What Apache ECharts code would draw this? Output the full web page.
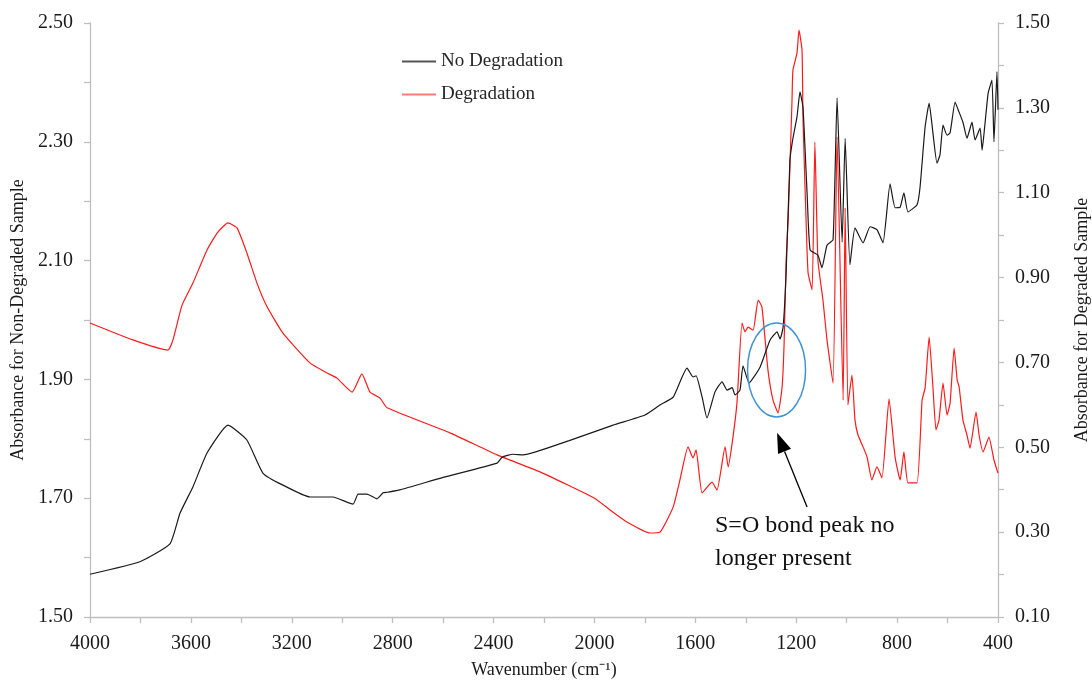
<!DOCTYPE html>
<html>
<head>
<meta charset="utf-8">
<script src="https://cdn.jsdelivr.net/npm/echarts@6/dist/echarts.min.js"></script>
<style>
html,body{margin:0;padding:0;background:#fff;}
#chart{width:1092px;height:680px;}
</style>
</head>
<body>
<div id="chart"></div>
<script>
// ---- Data ----
const xTicks = [4000, 3600, 3200, 2800, 2400, 2000, 1600, 1200, 800, 400];
const leftTicks = [1.50, 1.70, 1.90, 2.10, 2.30, 2.50];
const rightTicks = [0.10, 0.30, 0.50, 0.70, 0.90, 1.10, 1.30, 1.50];

// No Degradation (left axis)
const noDegWn = [4000,3802,3683,3643,3592,3536,3453,3378,3314,3235,3128,3037,2957,2937,2902,2862,2838,2822,2771,2600,2386,2366,2323,2283,2100,1926,1800,1740,1688,1633,1609,1597,1573,1554,1522,1494,1474,1454,1443,1423,1411,1387,1343,1304,1276,1264,1252,1240,1225,1213,1197,1185,1173,1157,1145,1114,1098,1078,1054,1038,1018,1006,987,967,935,907,880,856,828,808,788,773,757,721,709,689,673,658,642,630,618,602,590,570,558,539,523,503,491,471,463,451,439,424,416,404,400];
const noDegAbs = [1.572,1.593,1.623,1.675,1.719,1.776,1.823,1.798,1.742,1.722,1.702,1.702,1.690,1.707,1.707,1.699,1.709,1.710,1.714,1.735,1.759,1.769,1.774,1.773,1.797,1.823,1.840,1.857,1.870,1.919,1.904,1.906,1.870,1.835,1.879,1.896,1.882,1.886,1.874,1.882,1.923,1.894,1.921,1.966,1.980,1.968,1.988,2.079,2.269,2.306,2.342,2.384,2.357,2.214,2.118,2.109,2.088,2.126,2.135,2.374,2.131,2.306,2.093,2.155,2.130,2.157,2.152,2.130,2.229,2.189,2.190,2.214,2.182,2.194,2.224,2.325,2.365,2.315,2.264,2.278,2.328,2.311,2.315,2.367,2.354,2.333,2.306,2.333,2.303,2.323,2.286,2.333,2.382,2.404,2.300,2.418,2.354];

// Degradation (right axis)
const degWn = [4000,3830,3691,3671,3635,3592,3536,3496,3453,3417,3378,3338,3298,3235,3128,3060,3021,2961,2922,2890,2850,2822,2573,2386,2216,2000,1926,1871,1780,1740,1688,1661,1629,1609,1597,1573,1534,1514,1482,1470,1454,1435,1415,1403,1391,1371,1351,1336,1312,1292,1272,1256,1248,1240,1232,1217,1213,1197,1189,1177,1173,1161,1153,1137,1126,1114,1094,1078,1054,1038,1014,1006,995,979,967,955,935,919,900,880,860,832,808,788,773,757,721,701,689,673,658,646,634,618,602,590,574,562,554,539,523,511,487,475,459,436,416,400];
const degAbs = [0.793,0.753,0.729,0.753,0.835,0.887,0.965,1.005,1.029,1.017,0.958,0.887,0.831,0.769,0.699,0.675,0.663,0.630,0.673,0.630,0.616,0.593,0.534,0.482,0.442,0.380,0.347,0.324,0.298,0.300,0.359,0.423,0.501,0.475,0.494,0.392,0.418,0.399,0.501,0.454,0.510,0.604,0.793,0.772,0.783,0.776,0.847,0.831,0.682,0.611,0.581,0.642,0.746,0.941,1.036,1.311,1.389,1.429,1.483,1.436,1.271,1.036,0.911,0.871,1.219,0.941,0.847,0.753,0.651,1.231,0.611,1.064,0.600,0.670,0.564,0.529,0.501,0.477,0.423,0.454,0.428,0.614,0.477,0.423,0.489,0.416,0.416,0.611,0.640,0.760,0.642,0.541,0.564,0.651,0.576,0.604,0.734,0.659,0.642,0.564,0.529,0.498,0.583,0.529,0.489,0.524,0.470,0.439];

// Annotation anchors (data space: wavenumber, left-axis absorbance)
const ellipseCenter = [1278, 1.916];
const arrowTip = [1276, 1.810];
const arrowTail = [1157, 1.685];
const noteAnchor = [1522, 1.682];
const noteText = 'S=O bond peak no\nlonger present';

const zip = (a, b) => a.map((v, i) => [v, b[i]]);
const FONT = '"Liberation Serif", "Times New Roman", serif';
const AXIS_GREY = '#bfbfbf';
const TXT = '#1a1a1a';

const chart = echarts.init(document.getElementById('chart'), null, {renderer: 'canvas'});

const yAxisCommon = {
  type: 'value',
  interval: 0.2,
  axisLine: {show: true, lineStyle: {color: AXIS_GREY, width: 1.3}},
  axisTick: {show: true, length: 6, lineStyle: {color: AXIS_GREY, width: 1.3}},
  minorTick: {show: true, splitNumber: 2, length: 6, lineStyle: {color: AXIS_GREY, width: 1.3}},
  splitLine: {show: false},
  minorSplitLine: {show: false},
  axisLabel: {fontFamily: FONT, fontSize: 20, color: TXT, margin: 17, formatter: v => v.toFixed(2)},
  nameLocation: 'middle',
  nameTextStyle: {fontFamily: FONT, fontSize: 18, color: TXT}
};

chart.setOption({
  animation: false,
  backgroundColor: '#fff',
  grid: {left: 90, right: 94, top: 23, bottom: 63, containLabel: false, outerBoundsMode: 'none'},
  legend: {
    orient: 'vertical',
    left: 397,
    top: 47,
    itemWidth: 34,
    itemHeight: 2,
    itemGap: 14,
    icon: 'rect',
    textStyle: {fontFamily: FONT, fontSize: 19, color: '#262626'},
    data: ['No Degradation', 'Degradation']
  },
  xAxis: {
    type: 'value',
    inverse: true,
    min: 400,
    max: 4000,
    interval: 400,
    axisLine: {show: true, onZero: false, lineStyle: {color: AXIS_GREY, width: 1.3}},
    axisTick: {show: true, length: 6, lineStyle: {color: AXIS_GREY, width: 1.3}},
    minorTick: {show: true, splitNumber: 2, length: 6, lineStyle: {color: AXIS_GREY, width: 1.3}},
    splitLine: {show: false},
    axisLabel: {fontFamily: FONT, fontSize: 20, color: TXT, margin: 17,
      formatter: v => (xTicks.indexOf(v) >= 0 ? String(v) : '')},
    name: 'Wavenumber (cm\u207B\u00B9)',
    nameLocation: 'middle',
    nameGap: 44,
    nameTextStyle: {fontFamily: FONT, fontSize: 18, color: TXT}
  },
  yAxis: [
    Object.assign({}, yAxisCommon, {
      position: 'left',
      min: leftTicks[0],
      max: leftTicks[leftTicks.length - 1],
      name: 'Absorbance for Non-Degraded Sample',
      nameGap: 60
    }),
    Object.assign({}, yAxisCommon, {
      position: 'right',
      min: rightTicks[0],
      max: rightTicks[rightTicks.length - 1],
      name: 'Absorbance for Degraded Sample',
      nameGap: 75
    })
  ],
  series: [
    {
      name: 'No Degradation',
      type: 'line',
      yAxisIndex: 0,
      data: zip(noDegWn, noDegAbs),
      showSymbol: false,
      symbol: 'none',
      smooth: 0.15,
      lineStyle: {color: '#1a1a1a', width: 1.2},
      itemStyle: {color: '#555555'},
      z: 3
    },
    {
      name: 'Degradation',
      type: 'line',
      yAxisIndex: 1,
      data: zip(degWn, degAbs),
      showSymbol: false,
      symbol: 'none',
      smooth: 0.15,
      lineStyle: {color: '#ff1a1a', width: 1.2},
      itemStyle: {color: '#ff7a7a'},
      z: 2
    }
  ]
});

// ---- Annotation (positions converted from data space) ----
const toPx = p => chart.convertToPixel({xAxisIndex: 0, yAxisIndex: 0}, p);
const c = toPx(ellipseCenter);
const tip = toPx(arrowTip);
const tail = toPx(arrowTail);
const note = toPx(noteAnchor);
const ang = Math.atan2(tip[1] - tail[1], tip[0] - tail[0]);
const headLen = 20, headHalf = 7;
const baseX = tip[0] - headLen * Math.cos(ang), baseY = tip[1] - headLen * Math.sin(ang);
const nx = -Math.sin(ang), ny = Math.cos(ang);

chart.setOption({
  graphic: [
    {
      type: 'ellipse',
      shape: {cx: c[0], cy: c[1], rx: 29, ry: 47},
      style: {fill: 'none', stroke: '#3f92d6', lineWidth: 1.5},
      z: 100
    },
    {
      type: 'line',
      shape: {x1: tail[0], y1: tail[1], x2: baseX, y2: baseY},
      style: {stroke: '#000', lineWidth: 1.3},
      z: 100
    },
    {
      type: 'polygon',
      shape: {points: [[tip[0], tip[1]], [baseX + nx * headHalf, baseY + ny * headHalf], [baseX - nx * headHalf, baseY - ny * headHalf]]},
      style: {fill: '#000'},
      z: 100
    },
    {
      type: 'text',
      x: note[0],
      y: note[1],
      style: {text: noteText, font: '24px ' + FONT, fill: '#111', lineHeight: 33, textVerticalAlign: 'top', textAlign: 'left'},
      z: 100
    }
  ]
});
</script>
</body>
</html>
